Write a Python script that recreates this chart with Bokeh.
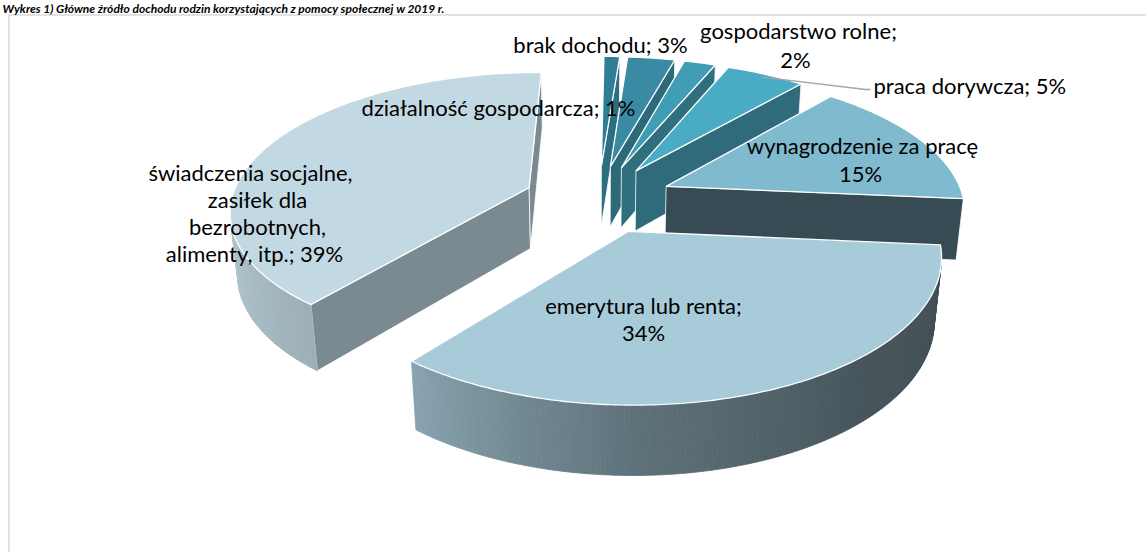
import numpy as np
from bokeh.plotting import figure
from bokeh.models import Range1d, ColumnDataSource
from bokeh.embed import file_html
from bokeh.resources import INLINE
from bokeh.core.properties import value

# ---------------- data ----------------
categories = ["działalność gospodarcza", "brak dochodu", "gospodarstwo rolne",
              "praca dorywcza", "wynagrodzenie za pracę", "emerytura lub renta",
              "świadczenia socjalne, zasiłek dla bezrobotnych, alimenty, itp."]
shares = [1, 3, 2, 5, 15, 34, 39]
label_texts = [
    ["działalność gospodarcza; 1%"],
    ["brak dochodu; 3%"],
    ["gospodarstwo rolne;", "2%"],
    ["praca dorywcza; 5%"],
    ["wynagrodzenie za pracę", "15%"],
    ["emerytura lub renta;", "34%"],
    ["świadczenia socjalne,", "zasiłek dla", "bezrobotnych,", "alimenty, itp.; 39%"],
]
title_text = "Wykres 1) Główne źródło dochodu rodzin korzystających z pomocy społecznej w 2019 r."

# ---------------- styles / layout ----------------
W, H = 1146, 552
top_colors = ["#2e7f96", "#3a8aa3", "#419db5", "#4aabc5", "#80bacf", "#a8cbda", "#c2d9e3"]
face_colors = ["#2b6f80", "#2d6a79", "#2f6f7e", "#2f6b7a", "#364b53", "#5f737b", "#7a8a91"]
label_pos = [
    [(498, 107, 'center')],
    [(600, 44, 'center')],
    [(798, 30, 'center'), (795, 59, 'center')],
    [(873, 85, 'left')],
    [(862, 145, 'center'), (860, 173, 'center')],
    [(643, 305, 'center'), (643, 332, 'center')],
    [(250, 172, 'center'), (257, 199, 'center'), (257, 226, 'center'), (254, 253, 'center')],
]
FONT = "Lato"
FS = "22px"

# 3-D view of the pie: screen centre, scale, elevation, camera distance,
# thickness, explosion, rotation of first slice (degrees)
VIEW = dict(cx=597.7, cy=259.9, S=291.7, phi=0.5105, D=5.804, t=0.2367, e=0.2498, th0=0.692)
cx, cy, S, phi, D, t, e, th0 = (VIEW[k] for k in ("cx", "cy", "S", "phi", "D", "t", "e", "th0"))


def proj(X, Y, Z):
    X = np.asarray(X, dtype=float)
    Y = np.asarray(Y, dtype=float)
    Z = np.asarray(Z, dtype=float)
    v = Y * np.sin(phi) + Z * np.cos(phi)
    w = Y * np.cos(phi) - Z * np.sin(phi)
    f = D / (D + w)
    return cx + S * X * f, cy - S * v * f


cum = np.concatenate([[0.0], np.cumsum(shares)]) / float(sum(shares)) * 360.0 + th0
cam = np.array([0.0, -D * np.cos(phi), D * np.sin(phi)])


def hex2rgb(h):
    h = h.lstrip('#')
    return np.array([int(h[k:k + 2], 16) for k in (0, 2, 4)], dtype=float)


def rgb2hex(c):
    c = np.clip(np.round(c), 0, 255).astype(int)
    return "#%02x%02x%02x" % tuple(c)


def side_factor(a):
    a = a % 360
    return np.interp(a, [0, 90, 140, 180, 218, 270, 360], [0.37, 0.37, 0.42, 0.56, 0.8, 0.95, 0.95])


def depth_key(i):
    am = np.radians((cum[i] + cum[i + 1]) / 2)
    return -(e + 0.5) * np.cos(am)


F_xs, F_ys, F_fill, F_line, F_lw = [], [], [], [], []


def add(xs, ys, fill, line, lw):
    F_xs.append([float(v) for v in xs])
    F_ys.append([float(v) for v in ys])
    F_fill.append(fill)
    F_line.append(line)
    F_lw.append(lw)


for i in sorted(range(len(shares)), key=depth_key):
    a0, a1 = cum[i], cum[i + 1]
    amr = np.radians((a0 + a1) / 2)
    ox, oy = e * np.sin(amr), e * np.cos(amr)
    n = max(4, int((a1 - a0) / 0.75) + 2)
    ar = np.radians(np.linspace(a0, a1, n))
    RX = ox + np.sin(ar)
    RY = oy + np.cos(ar)
    tx, ty = proj(RX, RY, np.full(n, t))
    bx, by = proj(RX, RY, np.zeros(n))
    atx, aty = proj(ox, oy, t)
    abx, aby = proj(ox, oy, 0.0)
    # radial faces
    for ang, sgn in ((a0, -90.0), (a1, 90.0)):
        nr = np.radians(ang + sgn)
        nv = np.array([np.sin(nr), np.cos(nr), 0.0])
        cr = np.radians(ang)
        wx, wy = ox + np.sin(cr), oy + np.cos(cr)
        mid = np.array([(ox + wx) / 2, (oy + wy) / 2, t / 2])
        if nv @ (cam - mid) > 0:
            ctx, cty = proj(wx, wy, t)
            cbx, cby = proj(wx, wy, 0.0)
            add([atx, ctx, cbx, abx], [aty, cty, cby, aby], face_colors[i], "white", 0.8)
    # curved outer side, shaded strip by strip
    base = hex2rgb(top_colors[i])
    for k in range(n - 1):
        mr = (ar[k] + ar[k + 1]) / 2
        nv = np.array([np.sin(mr), np.cos(mr), 0.0])
        pt = np.array([ox + np.sin(mr), oy + np.cos(mr), t / 2])
        if nv @ (cam - pt) > 0:
            col = rgb2hex(base * side_factor(np.degrees(mr)))
            add([tx[k], tx[k + 1], bx[k + 1], bx[k]], [ty[k], ty[k + 1], by[k + 1], by[k]], col, col, 0.8)
    # top face
    add([atx] + list(tx), [aty] + list(ty), top_colors[i], "white", 1.3)

# ---------------- figure ----------------
p = figure(width=W, height=H, x_range=Range1d(0, W), y_range=Range1d(H, 0),
           output_backend="svg", toolbar_location=None, min_border=0)
p.axis.visible = False
p.grid.visible = False
p.outline_line_color = None
p.background_fill_color = "white"
p.border_fill_color = "white"

# chart-area frame (left and top edges visible)
p.line([8.5, 8.5, W], [H, 14.5, 14.5], line_color="#d9d9d9", line_width=1.5)

src = ColumnDataSource(dict(xs=F_xs, ys=F_ys, fill=F_fill, line=F_line, lw=F_lw))
p.patches('xs', 'ys', source=src, fill_color='fill', line_color='line', line_width='lw')

# leader line for the 5% label
lm = np.radians((cum[3] + cum[4]) / 2)
lx, ly = proj(e * np.sin(lm) + np.sin(lm) * 0.97, e * np.cos(lm) + np.cos(lm) * 0.97, t)
lx2, ly2 = label_pos[3][0][0] - 8, label_pos[3][0][1] + 4
p.line([float(lx), lx2, lx2 + 5], [float(ly), ly2, ly2], line_color="#a6a6a6", line_width=1.3)

tx_, ty_, tt_, ta_ = [], [], [], []
for lines, poss in zip(label_texts, label_pos):
    for s, (x, y, al) in zip(lines, poss):
        tx_.append(x); ty_.append(y); tt_.append(s); ta_.append(al)
lsrc = ColumnDataSource(dict(x=tx_, y=ty_, text=tt_, align=ta_))
p.text('x', 'y', text='text', source=lsrc, text_align='align', text_baseline='middle',
       text_font=value(FONT), text_font_size=FS, text_color="#000000")

p.text([2], [0], text=[title_text], text_baseline='top', text_font=value("Lato"),
       text_font_size="12px", text_font_style="bold italic", text_color="#000000")

open("out.html", "w").write(file_html(p, INLINE))
